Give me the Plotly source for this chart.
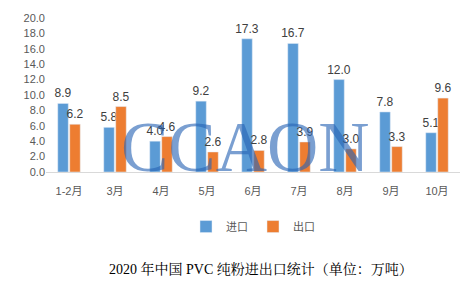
import plotly.graph_objects as go

categories = ["1-2月", "3月", "4月", "5月", "6月", "7月", "8月", "9月", "10月"]
imports = [8.9, 5.8, 4.0, 9.2, 17.3, 16.7, 12.0, 7.8, 5.1]
exports = [6.2, 8.5, 4.6, 2.6, 2.8, 3.9, 3.0, 3.3, 9.6]
y_ticks = [0, 2, 4, 6, 8, 10, 12, 14, 16, 18, 20]

blue = "#5B9BD5"
orange = "#ED7D31"
label_font = dict(family="Liberation Sans, Arial", size=12, color="#404040")

fig = go.Figure()
fig.add_trace(go.Bar(name="进口", x=categories, y=imports, marker_color=blue,
                     text=[f"{v:.1f}" for v in imports], textposition="outside",
                     textfont=label_font, cliponaxis=False, constraintext="none"))
fig.add_trace(go.Bar(name="出口", x=categories, y=exports, marker_color=orange,
                     text=[f"{v:.1f}" for v in exports], textposition="outside",
                     textfont=label_font, cliponaxis=False, constraintext="none"))

fig.update_layout(
    width=472, height=288,
    margin=dict(l=46, r=12, t=16, b=116),
    paper_bgcolor="white", plot_bgcolor="white",
    barmode="group", bargap=0.48, bargroupgap=0.12,
    showlegend=True,
    legend=dict(orientation="h", x=0.5, xanchor="center", y=-0.26, yanchor="top",
                font=dict(family="Noto Sans CJK SC", size=11, color="#595959"),
                itemwidth=30, traceorder="normal"),
    font=dict(family="Liberation Sans, Noto Sans CJK SC", color="#595959"),
)
fig.update_yaxes(range=[0, 20], tickvals=y_ticks, tickformat=".1f",
                 showgrid=False, zeroline=False, showline=False,
                 tickfont=dict(family="Liberation Sans, Arial", size=11, color="#595959"))
fig.update_xaxes(showline=True, linecolor="#D9D9D9", linewidth=1, showgrid=False,
                 ticks="outside", ticklen=9, tickcolor="rgba(0,0,0,0)",
                 tickfont=dict(family="Liberation Sans, Noto Sans CJK SC", size=11, color="#595959"))

fig.add_annotation(text="CCAON", xref="paper", yref="paper", x=0.482, y=0.165,
                   showarrow=False, yanchor="middle",
                   font=dict(family="Liberation Serif, Times New Roman", size=71,
                             color="rgba(40,100,180,0.62)"))
fig.add_annotation(text="2020 年中国 PVC 纯粉进出口统计（单位：万吨）", xref="paper", yref="paper",
                   x=0.52, y=-0.63, yanchor="middle", showarrow=False,
                   font=dict(family="Liberation Serif, Noto Serif CJK SC, Noto Sans CJK SC", size=14,
                             color="black"))

fig.write_html("out.html")
